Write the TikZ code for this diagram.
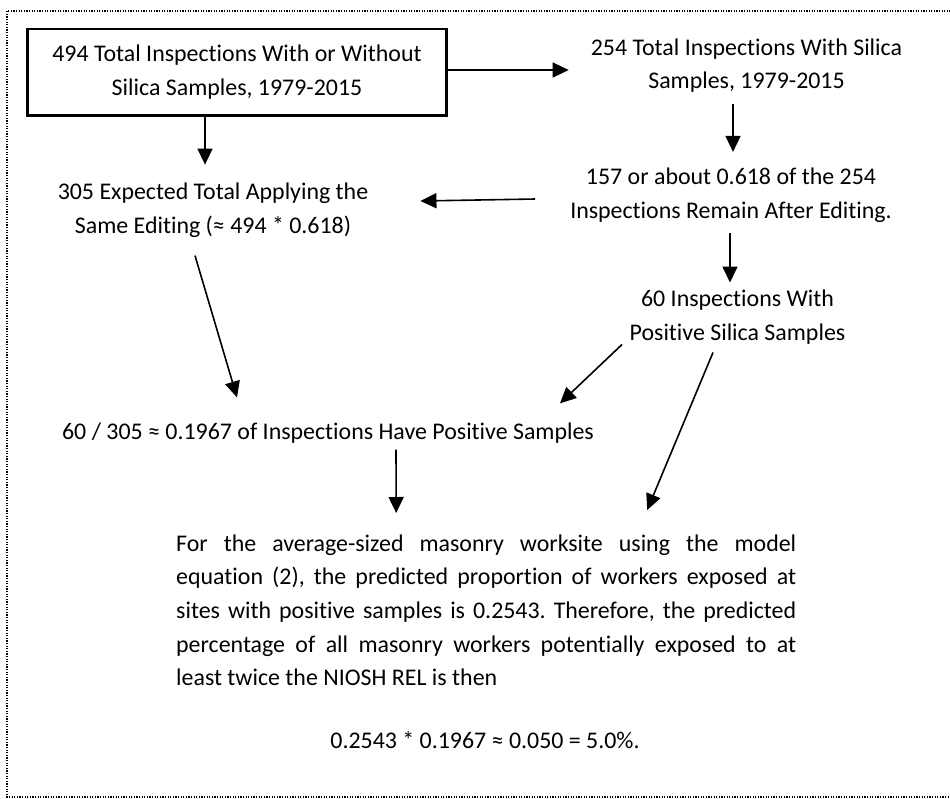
\documentclass[tikz,border=0pt]{standalone}
\usepackage{fontspec}
\setmainfont{Carlito}[Ligatures=NoCommon]
\usetikzlibrary{arrows.meta}
\frenchspacing
\begin{document}
\begin{tikzpicture}[x=1pt,y=-1pt,
  txt/.style={font=\fontsize{23.9}{33.7}\selectfont, align=center, inner sep=0pt},
  arr/.style={line width=1.6pt, -{Triangle[length=16pt,width=15pt]}},
]
\useasboundingbox (0,0) rectangle (950,798);
\begin{scope}
\clip (0,0) rectangle (950,798);
\draw[line width=1.3pt, dash pattern=on 1.3pt off 1.3pt] (1000,11) -- (7,11) -- (7,797) -- (1000,797);
\end{scope}

\node[txt, draw, line width=2.7pt, minimum width=419.3pt, minimum height=86.3pt] (box1) at (237,72) {494 Total Inspections With or Without\\Silica Samples, 1979-2015};
\node[txt] (t2) at (746.5,65.5) {254 Total Inspections With Silica\\Samples, 1979-2015};
\node[txt] (t3) at (731,195.5) {157 or about 0.618 of the 254\\Inspections Remain After Editing.};
\node[txt] (t4) at (213,210) {305 Expected Total Applying the\\Same Editing (≈ 494 * 0.618)};
\node[txt] (t5) at (737.5,317) {60 Inspections With\\Positive Silica Samples};
\node[txt] (t6) at (328,433) {60 / 305 ≈ 0.1967 of Inspections Have Positive Samples};
\node[txt, text width=620pt, align=justify, anchor=north west] (t7) at (176,534.2) {For the average-sized masonry worksite using the model\linebreak equation (2), the predicted proportion of workers exposed at\linebreak sites with positive samples is 0.2543. Therefore, the predicted\linebreak percentage of all masonry workers potentially exposed to at\linebreak least twice the NIOSH REL is then};
\node[txt] (t8) at (485,740.4) {0.2543 * 0.1967 ≈ 0.050 = 5.0\%.};

\coordinate (aS) at ([yshift=2pt]box1.east);
\draw[arr, shorten >=22pt] (aS) -- (aS -| t2.west);
\draw[arr] ([xshift=-32pt]box1.south) -- ([shift={(-8pt,18pt)}]t4.north);
\draw[arr] ([shift={(-13.5pt,-11.2pt)}]t2.south) -- ([shift={(2pt,16.2pt)}]t3.north);
\draw[arr] ([shift={(-35pt,-3.5pt)}]t3.west) -- ([shift={(52pt,9pt)}]t4.east);
\draw[arr] ([shift={(-1pt,-10.2pt)}]t3.south) -- ([shift={(-7.5pt,7.2pt)}]t5.north);
\draw[arr] ([shift={(-18pt,-18.2pt)}]t4.south) -- ([shift={(-91pt,25.2pt)}]t6.north);
\draw[arr] ([shift={(-115.5pt,-0.2pt)}]t5.south) -- ([shift={(232pt,19.2pt)}]t6.north);
\draw[arr] ([shift={(-24.5pt,-8.2pt)}]t5.south) -- ([shift={(161pt,24.2pt)}]t7.north);
\draw[arr] ([shift={(68pt,-6.2pt)}]t6.south) -- ([shift={(-90pt,21.2pt)}]t7.north);
\end{tikzpicture}
\end{document}
